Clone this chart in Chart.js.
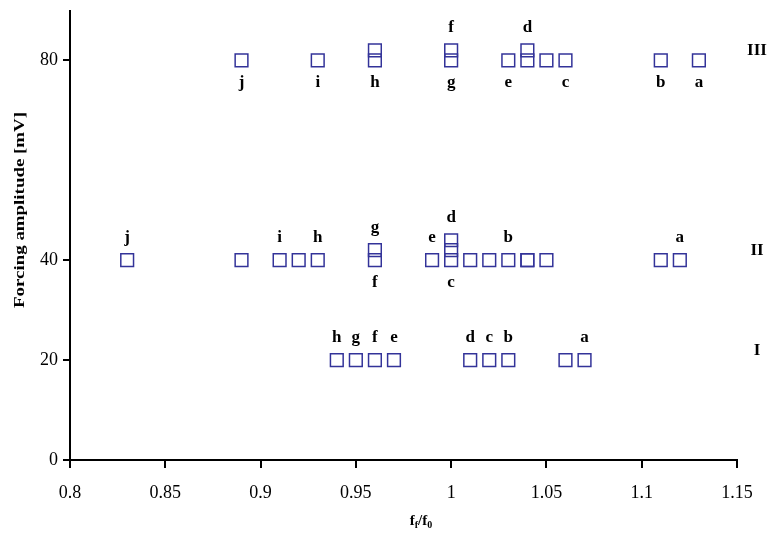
<!DOCTYPE html>
<html>
<head>
<meta charset="utf-8">
<script src="https://cdn.jsdelivr.net/npm/chart.js@4.4.1/dist/chart.umd.min.js"></script>
<style>
  html, body { margin: 0; padding: 0; background: #fff; }
</style>
</head>
<body>
<canvas id="chart" width="770" height="536"></canvas>
<script>
// axis ticks
const xTicks = [0.8, 0.85, 0.9, 0.95, 1, 1.05, 1.1, 1.15];
const yTicks = [0, 20, 40, 80];

// measured points, one array pair per forcing level
const rowIx   = [0.94, 0.95, 0.96, 0.97, 1.01, 1.02, 1.03, 1.06, 1.07];
const rowIy   = [20, 20, 20, 20, 20, 20, 20, 20, 20];
const rowIIx  = [0.83, 0.89, 0.91, 0.92, 0.93, 0.96, 0.96, 0.99, 1.0, 1.0, 1.0, 1.01, 1.02, 1.03, 1.04, 1.04, 1.05, 1.11, 1.12];
const rowIIy  = [40, 40, 40, 40, 40, 40, 42, 40, 40, 42, 44, 40, 40, 40, 40, 40, 40, 40, 40];
const rowIIIx = [0.89, 0.93, 0.96, 0.96, 1.0, 1.0, 1.03, 1.04, 1.04, 1.05, 1.06, 1.11, 1.13];
const rowIIIy = [80, 80, 80, 82, 80, 82, 80, 80, 82, 80, 80, 80, 80];

// letter annotations (side: 1 = above the point, -1 = below)
const labelText = ['h','g','f','e','d','c','b','a',
                   'j','i','h','g','f','e','d','c','b','a',
                   'j','i','h','f','g','e','d','c','b','a'];
const labelX = [0.94, 0.95, 0.96, 0.97, 1.01, 1.02, 1.03, 1.07,
                0.83, 0.91, 0.93, 0.96, 0.96, 0.99, 1.0, 1.0, 1.03, 1.12,
                0.89, 0.93, 0.96, 1.0, 1.0, 1.03, 1.04, 1.06, 1.11, 1.13];
const labelY = [20, 20, 20, 20, 20, 20, 20, 20,
                40, 40, 40, 42, 40, 40, 44, 40, 40, 40,
                80, 80, 80, 82, 80, 80, 82, 80, 80, 80];
const labelSide = [1, 1, 1, 1, 1, 1, 1, 1,
                   1, 1, 1, 1, -1, 1, 1, -1, 1, 1,
                   -1, -1, -1, 1, -1, -1, 1, -1, -1, -1];

// roman numerals at the right side
const levelNames = ['I', 'II', 'III'];
const levelValues = [20, 40, 80];

const markColor = '#333399';
const serif = '"Liberation Serif", "Times New Roman", serif';

const toPoints = (xs, ys) => xs.map((x, i) => ({ x: x, y: ys[i] }));

const annotations = {
  id: 'annotations',
  afterDatasetsDraw(chart) {
    const { ctx, scales, chartArea } = chart;
    ctx.save();
    ctx.fillStyle = '#000';
    ctx.textAlign = 'center';
    ctx.textBaseline = 'middle';
    ctx.font = 'bold 17px ' + serif;
    labelText.forEach((t, i) => {
      const px = scales.x.getPixelForValue(labelX[i]);
      const py = scales.y.getPixelForValue(labelY[i]) + (labelSide[i] > 0 ? -23 : 22);
      ctx.fillText(t, px, py);
    });

    // level names
    ctx.font = 'bold 17px ' + serif;
    levelNames.forEach((t, i) => {
      ctx.fillText(t, chartArea.right + 20, scales.y.getPixelForValue(levelValues[i]) - 10);
    });

    // y title (original is stretched along its length)
    ctx.save();
    ctx.translate(20, 210);
    ctx.rotate(-Math.PI / 2);
    ctx.scale(1.35, 1);
    ctx.font = 'bold 14px ' + serif;
    ctx.fillText('Forcing amplitude [mV]', 0, 0);
    ctx.restore();

    // x title f_f / f_0
    ctx.textAlign = 'left';
    ctx.textBaseline = 'alphabetic';
    const big = 'bold 15px ' + serif, small = 'bold 10px ' + serif;
    const parts = [['f', big, 0], ['f', small, 3], ['/f', big, 0], ['0', small, 3]];
    let w = 0;
    parts.forEach(p => { ctx.font = p[1]; w += ctx.measureText(p[0]).width; });
    let x = 421 - w / 2;
    parts.forEach(p => {
      ctx.font = p[1];
      ctx.fillText(p[0], x, 525 + p[2]);
      x += ctx.measureText(p[0]).width;
    });
    ctx.restore();
  }
};

const ds = (xs, ys) => ({
  data: toPoints(xs, ys),
  pointStyle: 'rect',
  pointRadius: 9,
  pointHoverRadius: 9,
  borderColor: markColor,
  backgroundColor: 'rgba(0,0,0,0)',
  pointBorderWidth: 1.5,
  showLine: false
});

new Chart(document.getElementById('chart'), {
  type: 'scatter',
  data: {
    datasets: [ds(rowIx, rowIy), ds(rowIIx, rowIIy), ds(rowIIIx, rowIIIy)]
  },
  options: {
    responsive: false,
    animation: false,
    layout: { padding: { left: 0, right: 33, top: 8, bottom: 0 } },
    plugins: { legend: { display: false }, tooltip: { enabled: false } },
    scales: {
      x: {
        type: 'linear',
        min: 0.8,
        max: 1.15,
        afterBuildTicks: s => { s.ticks = xTicks.map(v => ({ value: v })); },
        afterFit: s => { s.height = 76; s.paddingLeft = 0; s.paddingRight = 0; },
        border: { color: '#000', width: 2 },
        grid: { drawOnChartArea: false, drawTicks: true, tickLength: 8, color: '#000', lineWidth: 2 },
        ticks: {
          color: '#000',
          padding: 14,
          font: { family: serif, size: 18 },
          callback: v => String(+v.toFixed(2))
        }
      },
      y: {
        type: 'linear',
        min: 0,
        max: 90,
        afterBuildTicks: s => { s.ticks = yTicks.map(v => ({ value: v })); },
        afterFit: s => { s.width = 70; s.paddingTop = 0; s.paddingBottom = 0; },
        border: { color: '#000', width: 2 },
        grid: { drawOnChartArea: false, drawTicks: true, tickLength: 7, color: '#000', lineWidth: 2 },
        ticks: {
          color: '#000',
          padding: 5,
          font: { family: serif, size: 18 }
        }
      }
    }
  },
  plugins: [annotations]
});
</script>
</body>
</html>
